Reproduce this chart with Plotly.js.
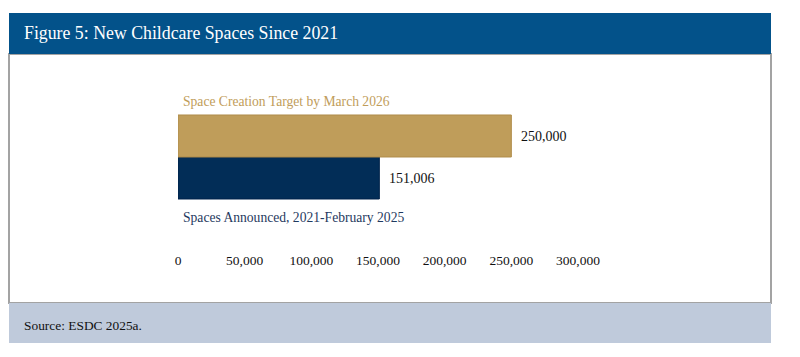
<!DOCTYPE html>
<html>
<head>
<meta charset="utf-8">
<script src="https://cdn.plot.ly/plotly-3.0.1.min.js"></script>
<style>html,body{margin:0;padding:0;background:#fff;}#chart{width:800px;height:357px;}</style>
</head>
<body>
<div id="chart"></div>
<script>
// Data
var categories = ["Spaces Announced, 2021-February 2025", "Space Creation Target by March 2026"];
var values = [151006, 250000];
var barColors = ["#022D57", "#BF9D5A"];
var labelColors = ["#1F3A60", "#BF9D5A"];
var tickValues = [0, 50000, 100000, 150000, 200000, 250000, 300000];
var tickLabels = ["0", "50,000", "100,000", "150,000", "200,000", "250,000", "300,000"];
var titleText = "Figure 5: New Childcare Spaces Since 2021";
var sourceText = "Source: ESDC 2025a.";

var serif = "Liberation Serif, Times New Roman, serif";

// pixel -> paper helpers (plot area: x 178..578, y 80..248)
function px(xp) { return (xp - 178) / 400; }
function py(yp) { return (357 - 109 - yp) / 168; }

var trace = {
  type: "bar",
  orientation: "h",
  x: values,
  y: categories,
  marker: {color: barColors, line: {color: ["#01224A", "#B08C4A"], width: 1}},
  hoverinfo: "x",
  showlegend: false
};

var annotations = [];
// Category labels
annotations.push({xref: "x", yref: "y", x: 0, y: 1.833, text: categories[1], showarrow: false,
  xanchor: "left", yanchor: "middle", xshift: 3, font: {family: serif, size: 13.6, color: labelColors[1]}});
annotations.push({xref: "x", yref: "y", x: 0, y: -0.93, text: categories[0], showarrow: false,
  xanchor: "left", yanchor: "middle", xshift: 3, font: {family: serif, size: 13.6, color: labelColors[0]}});
// Value labels
for (var i = 0; i < values.length; i++) {
  annotations.push({xref: "x", yref: "y", x: values[i], y: categories[i], text: values[i].toLocaleString("en-US"),
    showarrow: false, xanchor: "left", yanchor: "middle", xshift: 8, yshift: -1,
    font: {family: serif, size: 14, color: "#111"}});
}
// Title & source
annotations.push({xref: "paper", yref: "paper", x: px(22), y: py(33), text: titleText, showarrow: false,
  xanchor: "left", yanchor: "middle", font: {family: serif, size: 17.8, color: "#ffffff"}});
annotations.push({xref: "paper", yref: "paper", x: px(22), y: py(325), text: sourceText, showarrow: false,
  xanchor: "left", yanchor: "middle", font: {family: serif, size: 13.4, color: "#111"}});

var layout = {
  width: 800, height: 357,
  margin: {l: 178, r: 222, t: 80, b: 109},
  paper_bgcolor: "#ffffff", plot_bgcolor: "rgba(0,0,0,0)",
  bargap: 0,
  xaxis: {range: [0, 300000], tickvals: tickValues, ticktext: tickLabels, showgrid: false, zeroline: false,
    showline: false, ticks: "", ticklabelstandoff: 2, tickfont: {family: serif, size: 13.5, color: "#111"}, fixedrange: true},
  yaxis: {range: [-1.667, 2.333], showticklabels: false, showgrid: false, zeroline: false, showline: false, ticks: "", fixedrange: true},
  shapes: [
    {type: "rect", xref: "paper", yref: "paper", layer: "below", x0: px(9), x1: px(771), y0: py(303), y1: py(54),
      fillcolor: "#ffffff", line: {color: "#A3A3A3", width: 2}},
    {type: "rect", xref: "paper", yref: "paper", layer: "below", x0: px(9), x1: px(771), y0: py(54), y1: py(13),
      fillcolor: "#03528A", line: {width: 0}},
    {type: "rect", xref: "paper", yref: "paper", layer: "below", x0: px(9), x1: px(771), y0: py(343), y1: py(303),
      fillcolor: "#BFCADB", line: {width: 0}}
  ],
  annotations: annotations
};

Plotly.newPlot("chart", [trace], layout, {displayModeBar: false, staticPlot: true});
</script>
</body>
</html>
